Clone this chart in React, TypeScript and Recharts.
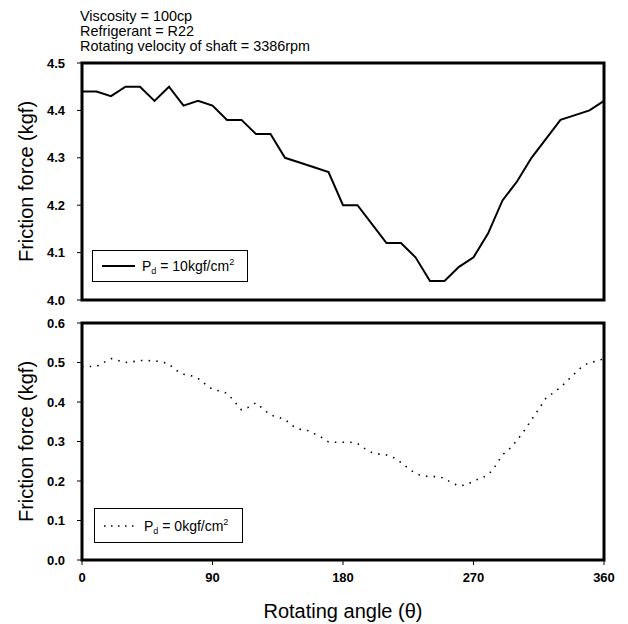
import React from 'react';
import { LineChart, Line, XAxis, YAxis, ReferenceArea, Legend } from 'recharts';

const anglesTop = [0, 10, 20, 30, 40, 50, 60, 70, 80, 90, 100, 110, 120, 130, 140, 150, 160, 170, 180, 190, 200, 210, 220, 230, 240, 250, 260, 270, 280, 290, 300, 310, 320, 330, 340, 350, 360];
const frictionPd10 = [4.44, 4.44, 4.43, 4.45, 4.45, 4.42, 4.45, 4.41, 4.42, 4.41, 4.38, 4.38, 4.35, 4.35, 4.30, 4.29, 4.28, 4.27, 4.20, 4.20, 4.16, 4.12, 4.12, 4.09, 4.04, 4.04, 4.07, 4.09, 4.14, 4.21, 4.25, 4.30, 4.34, 4.38, 4.39, 4.40, 4.42];

const anglesBottom = [0, 5, 10, 15, 20, 25, 30, 35, 40, 45, 50, 55, 60, 65, 70, 75, 80, 85, 90, 95, 100, 105, 110, 115, 120, 125, 130, 135, 140, 145, 150, 155, 160, 165, 170, 175, 180, 185, 190, 195, 200, 205, 210, 215, 220, 225, 230, 235, 240, 245, 250, 255, 260, 265, 270, 275, 280, 285, 290, 295, 300, 305, 310, 315, 320, 325, 330, 335, 340, 345, 350, 355, 360];
const frictionPd0 = [0.49, 0.49, 0.49, 0.50, 0.51, 0.505, 0.50, 0.502, 0.505, 0.505, 0.504, 0.502, 0.496, 0.48, 0.47, 0.467, 0.46, 0.445, 0.432, 0.428, 0.422, 0.402, 0.38, 0.387, 0.398, 0.382, 0.367, 0.362, 0.356, 0.34, 0.331, 0.329, 0.32, 0.311, 0.299, 0.298, 0.298, 0.298, 0.295, 0.282, 0.272, 0.268, 0.266, 0.259, 0.247, 0.232, 0.219, 0.213, 0.211, 0.211, 0.207, 0.195, 0.188, 0.19, 0.20, 0.207, 0.215, 0.238, 0.266, 0.282, 0.303, 0.328, 0.355, 0.382, 0.41, 0.423, 0.437, 0.455, 0.473, 0.49, 0.50, 0.503, 0.51];

const xTicks = [0, 90, 180, 270, 360];
const topYTicks = [4.0, 4.1, 4.2, 4.3, 4.4, 4.5];
const bottomYTicks = [0.0, 0.1, 0.2, 0.3, 0.4, 0.5, 0.6];
const notes = ['Viscosity = 100cp', 'Refrigerant = R22', 'Rotating velocity of shaft = 3386rpm'];
const yTitle = 'Friction force (kgf)';
const xTitle = 'Rotating angle (\u03B8)';

const topData = anglesTop.map((a, i) => ({ angle: a, v: frictionPd10[i] }));
const bottomData = anglesBottom.map((a, i) => ({ angle: a, v: frictionPd0[i] }));

const FONT = '"Liberation Sans", Arial, sans-serif';
const tickStyle = { fontSize: 13, fontWeight: 700, fill: '#000', fontFamily: FONT };
const titleStyle = { fontSize: 20, fill: '#000', fontFamily: FONT };

const LegendBox = ({ dotted, label }: { dotted: boolean; label: string }) => (
  <div
    style={{
      boxSizing: 'border-box',
      width: '100%',
      height: '100%',
      border: '1.5px solid #000',
      background: '#fff',
      position: 'relative',
      fontFamily: FONT,
      fontSize: 14,
      color: '#000',
    }}
  >
    <svg width={40} height={10} style={{ position: 'absolute', left: 9, top: '50%', marginTop: -5 }}>
      <line
        x1={0}
        y1={5}
        x2={33}
        y2={5}
        stroke="#000"
        strokeWidth={dotted ? 1.6 : 1.8}
        strokeDasharray={dotted ? '1.5 5.5' : undefined}
      />
    </svg>
    <div style={{ position: 'absolute', left: 49, top: '50%', transform: 'translateY(-50%)', whiteSpace: 'nowrap' }}>
      P<sub style={{ fontSize: 9, verticalAlign: -3 }}>d</sub> = {label}kgf/cm<sup style={{ fontSize: 9, verticalAlign: 6 }}>2</sup>
    </div>
  </div>
);

export default function App() {
  return (
    <div style={{ position: 'absolute', left: 0, top: 0, width: 628, height: 624, background: '#fff' }}>
      {notes.map((n, i) => (
        <div
          key={n}
          style={{
            position: 'absolute',
            left: 80,
            top: 9 + i * 15,
            fontFamily: FONT,
            fontSize: 14.4,
            lineHeight: '15px',
            color: '#000',
            whiteSpace: 'nowrap',
          }}
        >
          {n}
        </div>
      ))}
      <div style={{ position: 'absolute', left: 0, top: 0 }}>
        <LineChart width={628} height={309} data={topData} margin={{ top: 63, right: 24, left: 0, bottom: 0 }}>
          <XAxis
            dataKey="angle"
            type="number"
            domain={[0, 360]}
            ticks={xTicks}
            tick={false}
            tickLine={{ stroke: '#000', strokeWidth: 1 }}
            tickSize={5}
            axisLine={false}
            height={9}
          />
          <YAxis
            type="number"
            domain={[4.0, 4.5]}
            ticks={topYTicks}
            tickFormatter={(v: number) => v.toFixed(1)}
            tick={tickStyle}
            tickLine={{ stroke: '#000', strokeWidth: 1 }}
            tickSize={5}
            tickMargin={12}
            axisLine={false}
            width={82}
            allowDataOverflow
            label={{ value: yTitle, angle: -90, position: 'center', dx: -15, style: titleStyle }}
          />
          <ReferenceArea x1={0} x2={360} y1={4.0} y2={4.5} fill="none" stroke="#000" strokeWidth={3} ifOverflow="visible" />
          <Line
            type="linear"
            dataKey="v"
            name="Pd = 10kgf/cm2"
            stroke="#000"
            strokeWidth={2}
            dot={false}
            isAnimationActive={false}
          />
          <Legend
            layout="horizontal"
            verticalAlign="middle"
            align="center"
            wrapperStyle={{ left: 92, top: 250, width: 156, height: 32 }}
            content={() => <LegendBox dotted={false} label="10" />}
          />
        </LineChart>
      </div>
      <div style={{ position: 'absolute', left: 0, top: 310 }}>
        <LineChart width={628} height={314} data={bottomData} margin={{ top: 13, right: 24, left: 0, bottom: 0 }}>
          <XAxis
            dataKey="angle"
            type="number"
            domain={[0, 360]}
            ticks={xTicks}
            tick={tickStyle}
            tickLine={{ stroke: '#000', strokeWidth: 1 }}
            tickSize={5}
            tickMargin={8}
            axisLine={false}
            height={64}
            label={{ value: xTitle, position: 'insideBottom', offset: 6, style: titleStyle }}
          />
          <YAxis
            type="number"
            domain={[0, 0.6]}
            ticks={bottomYTicks}
            tickFormatter={(v: number) => v.toFixed(1)}
            tick={tickStyle}
            tickLine={{ stroke: '#000', strokeWidth: 1 }}
            tickSize={5}
            tickMargin={12}
            axisLine={false}
            width={82}
            allowDataOverflow
            label={{ value: yTitle, angle: -90, position: 'center', dx: -15, style: titleStyle }}
          />
          <ReferenceArea x1={0} x2={360} y1={0} y2={0.6} fill="none" stroke="#000" strokeWidth={3} ifOverflow="visible" />
          <Line
            type="linear"
            dataKey="v"
            name="Pd = 0kgf/cm2"
            stroke="#000"
            strokeWidth={1.6}
            strokeDasharray="1.5 6.2"
            dot={false}
            isAnimationActive={false}
          />
          <Legend
            layout="horizontal"
            verticalAlign="middle"
            align="center"
            wrapperStyle={{ left: 94, top: 198, width: 149, height: 35 }}
            content={() => <LegendBox dotted={true} label="0" />}
          />
        </LineChart>
      </div>
    </div>
  );
}
